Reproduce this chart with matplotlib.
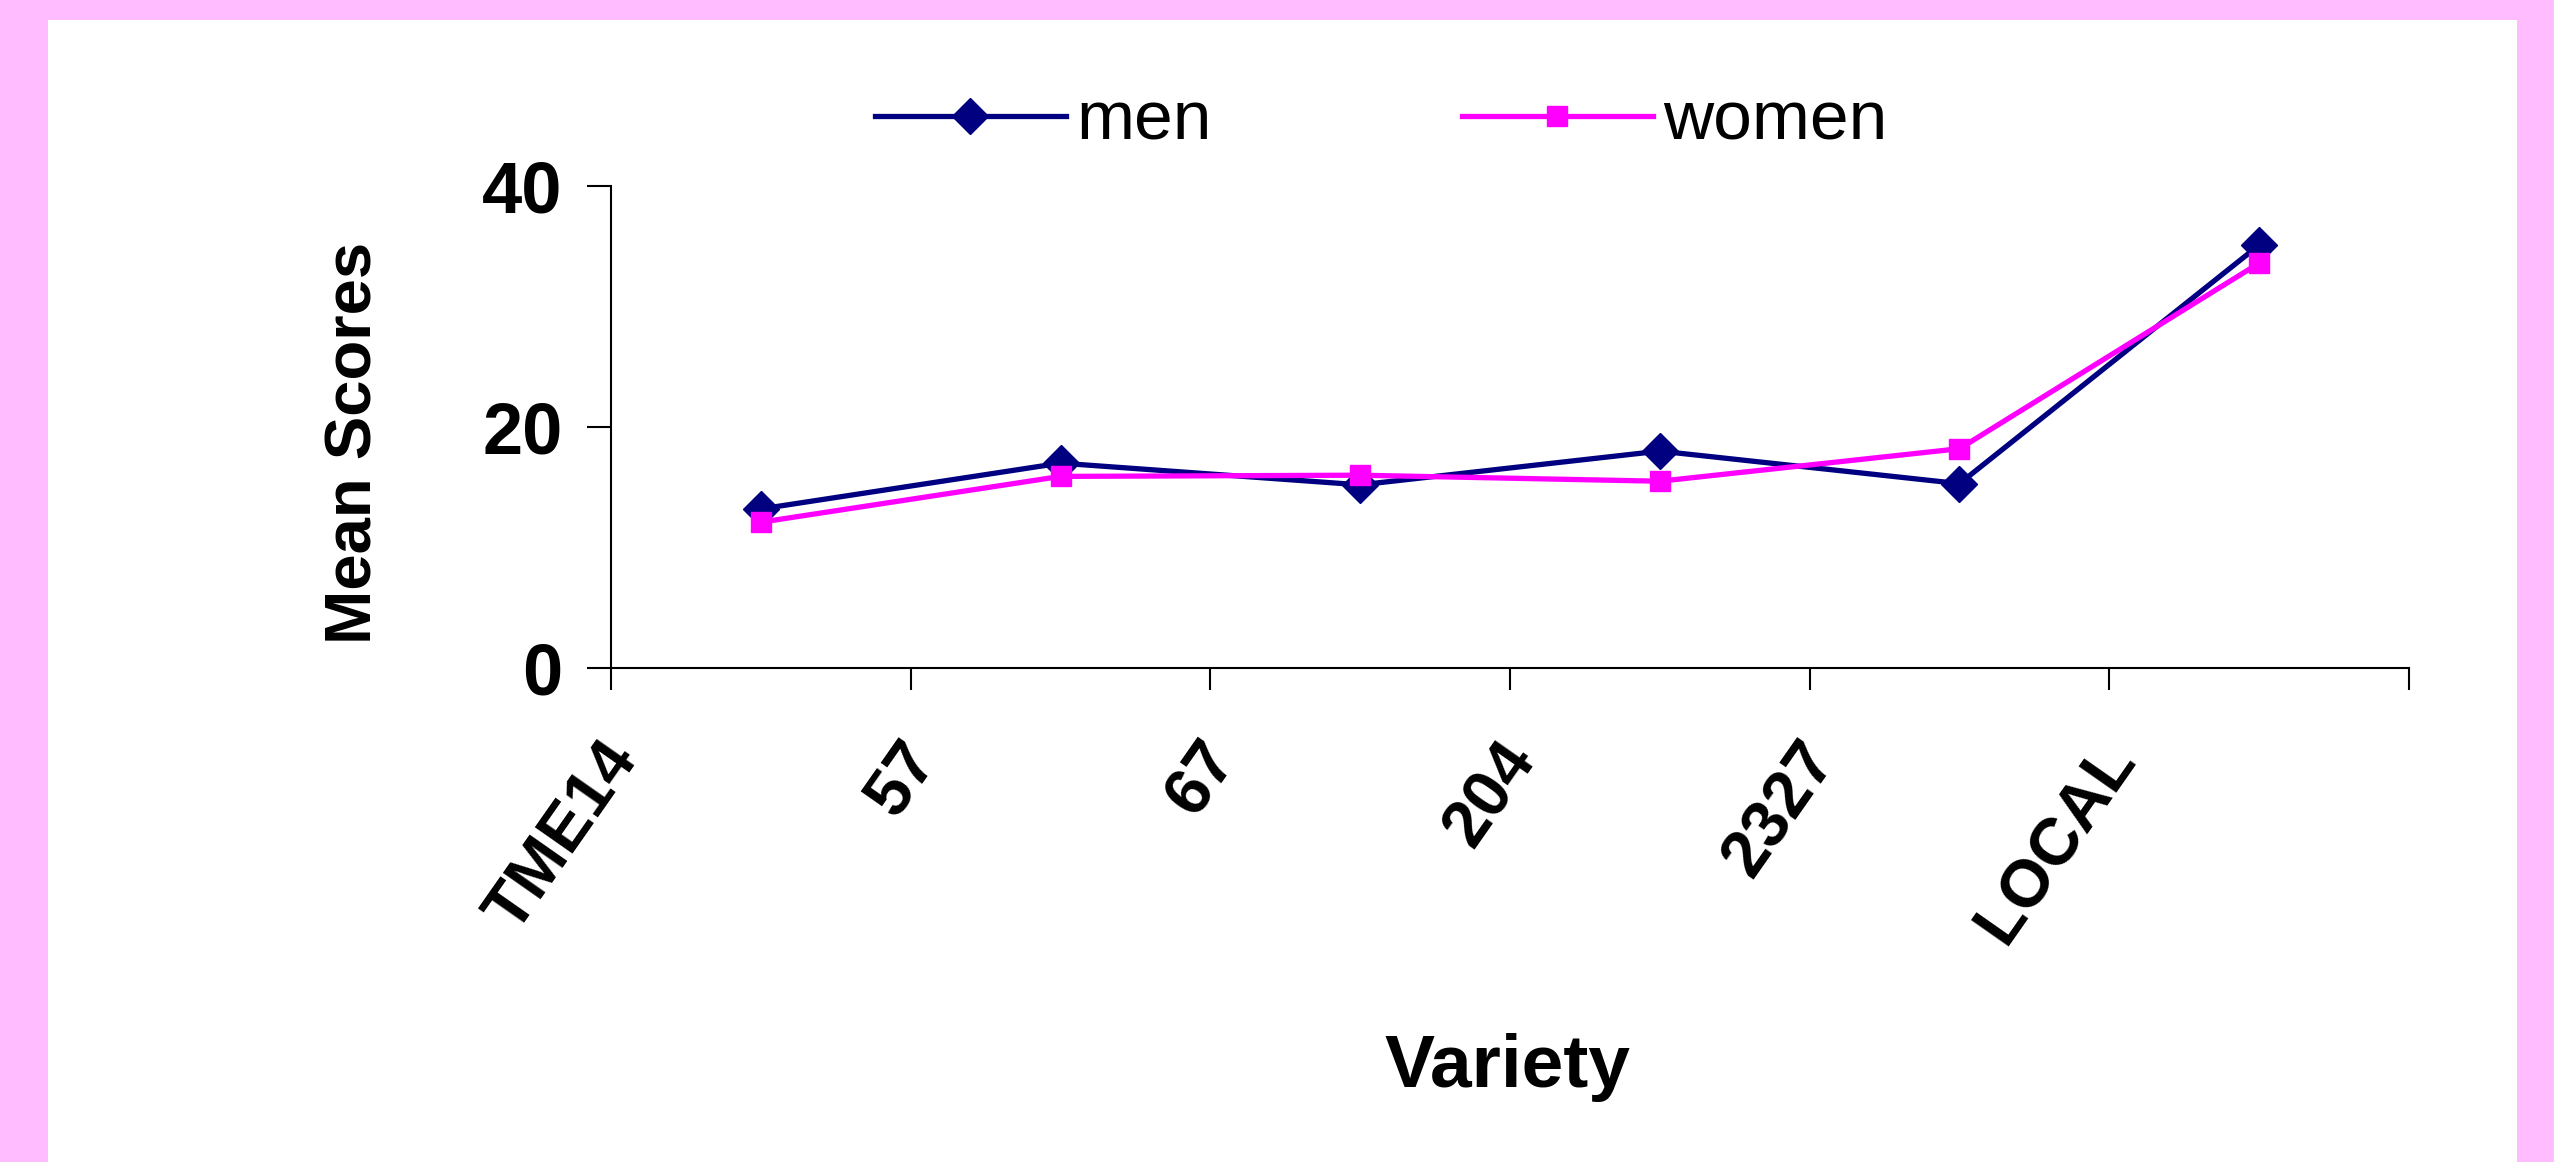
import matplotlib.pyplot as plt
import matplotlib.transforms as mtransforms
from matplotlib.patches import Rectangle

# values
varieties = ['TME14', '57', '67', '204', '2327', 'LOCAL']
men = [13.2, 17.0, 15.2, 18.0, 15.3, 35.1]
women = [12.1, 15.9, 16.0, 15.5, 18.2, 33.6]
y_ticks = [0, 20, 40]

plt.rcParams['font.family'] = ['Liberation Sans', 'DejaVu Sans']

fig = plt.figure(figsize=(25.54, 11.62), dpi=100, facecolor='#FFBDFF')
# white panel inside the pink border
fig.patches.append(Rectangle((48 / 2554, 0), (2517 - 48) / 2554, (1162 - 20) / 1162,
                             transform=fig.transFigure, facecolor='white',
                             edgecolor='none', zorder=-10))

ax = fig.add_axes([611 / 2554, 1 - 668 / 1162, (2409 - 611) / 2554, (668 - 186) / 1162])
ax.set_facecolor('none')
ax.set_zorder(5)

x = [i + 0.5 for i in range(len(varieties))]
ax.plot(x, men, color='#000080', lw=3.8, marker='D', ms=18, label='men', clip_on=False)
ax.plot(x, women, color='#FF00FF', lw=3.8, marker='s', ms=15, label='women', clip_on=False)

ax.set_xlim(0, len(varieties))
ax.set_ylim(0, 40)
ax.set_yticks(y_ticks)
ax.set_yticklabels([str(t) for t in y_ticks], fontsize=52, fontweight='bold')
ax.set_xticks(range(len(varieties) + 1))
ax.set_xticklabels([])
ax.tick_params(axis='y', direction='out', length=17, width=1.5, pad=18)
ax.tick_params(axis='x', direction='out', length=16, width=1.5)
for s in ['top', 'right']:
    ax.spines[s].set_visible(False)
for s in ['left', 'bottom']:
    ax.spines[s].set_linewidth(1.5)

# category labels, rotated and shifted left like the original
off = mtransforms.ScaledTranslation(-162 / 100, -63 / 100, fig.dpi_scale_trans)
trans = mtransforms.blended_transform_factory(ax.transData, ax.transAxes) + off
for xi, lab in zip(x, varieties):
    ax.text(xi, 0, lab, transform=trans, rotation=55, rotation_mode='anchor',
            ha='right', va='top', fontsize=48, fontweight='bold')

fig.text(355 / 2554, 1 - 443 / 1162, 'Mean Scores', rotation=90, ha='center',
         va='center', fontsize=47, fontweight='bold')
fig.text(1507 / 2554, 1 - 1067 / 1162, 'Variety', ha='center', va='center',
         fontsize=54, fontweight='bold')

ax.legend(loc='center left', bbox_to_anchor=(875 / 2554, 1 - 122 / 1162),
          bbox_transform=fig.transFigure, ncol=2, frameon=False, fontsize=50,
          borderpad=0, borderaxespad=0, handlelength=2.75, handletextpad=0.15,
          columnspacing=3.6)

fig.savefig('out.png', dpi=100, facecolor=fig.get_facecolor())
